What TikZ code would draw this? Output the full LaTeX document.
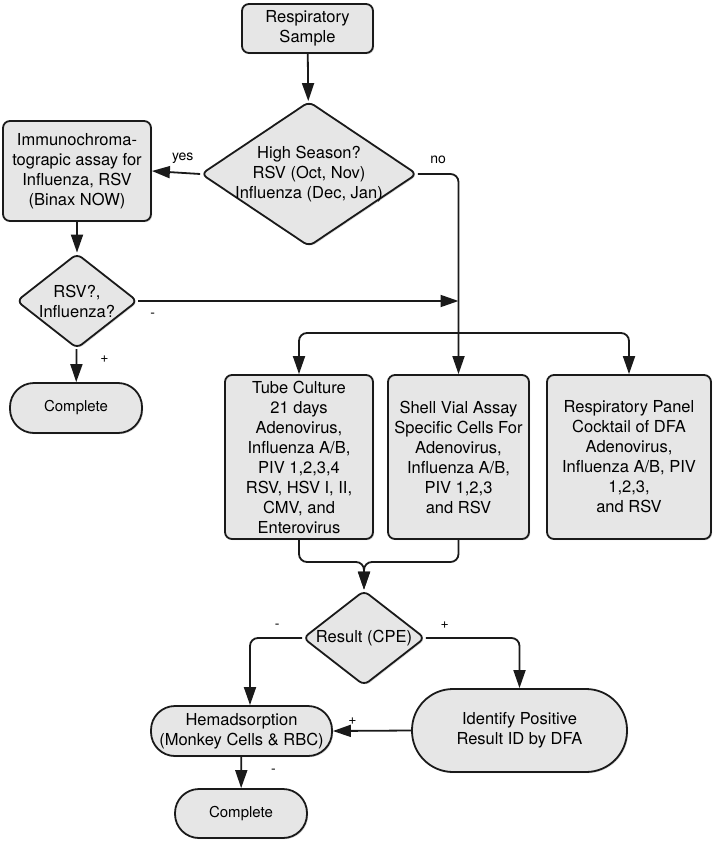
\documentclass[tikz,border=0pt]{standalone}
\usepackage{fontspec}
\setmainfont{TeX Gyre Heros}
\usetikzlibrary{shapes.geometric, arrows.meta, positioning, shadows}
\definecolor{boxfill}{HTML}{E6E6E6}
\definecolor{edgeline}{HTML}{1A1A1A}

\begin{document}
\begin{tikzpicture}[
    x=1pt, y=-1pt,
    every node/.style={font=\fontsize{16.5}{20}\selectfont},
    shade/.style={drop shadow={opacity=0.3, shadow xshift=1.2pt, shadow yshift=-1.2pt}},
    box/.style={rectangle, draw=edgeline, fill=boxfill, line width=1.8pt,
                rounded corners=7pt, align=center, inner sep=2pt, shade},
    decision/.style={diamond, draw=edgeline, fill=boxfill, line width=1.8pt,
                rounded corners=6pt, inner sep=0pt, shade},
    terminal/.style={rectangle, draw=edgeline, fill=boxfill, line width=1.8pt,
                rounded corners=24pt, align=center, inner sep=2pt, shade},
    arrow/.style={-{Triangle[length=18pt, width=12pt]}, line width=1.8pt, draw=edgeline},
    tag/.style={font=\fontsize{14}{16}\selectfont, inner sep=1pt}
]
\useasboundingbox (0,0) rectangle (714,845);

% Screening
\node[box, minimum width=131, minimum height=49] (sample) at (307.5,28.5) {Respiratory\\Sample};
\node[decision, minimum width=216, minimum height=145] (season) at (309,174) {};
\node[align=center] at (season) {High Season?\\RSV (Oct, Nov)\\Influenza (Dec, Jan)};
\node[box, minimum width=148, minimum height=100] (immuno) at (77,171)
    {Immunochroma-\\tograpic assay for\\Influenza, RSV\\(Binax NOW)};
\node[decision, minimum width=121, minimum height=95] (rsvq) at (77,301) {};
\node[align=center] at (rsvq) {RSV?,\\Influenza?};
\node[terminal, minimum width=132, minimum height=50, font=\fontsize{15}{18}\selectfont] (done1) at (76,408) {Complete};

% Assays
\node[box, minimum width=148, minimum height=164] (tube) at (299,457)
    {Tube Culture\\21 days\\Adenovirus,\\Influenza A/B,\\PIV 1,2,3,4\\RSV, HSV I, II,\\CMV, and\\Enterovirus};
\node[box, minimum width=141, minimum height=164] (shell) at (458.5,457)
    {Shell Vial Assay\\Specific Cells For\\Adenovirus,\\Influenza A/B,\\PIV 1,2,3\\and RSV};
\node[box, minimum width=164, minimum height=164] (panel) at (629,457)
    {Respiratory Panel\\Cocktail of DFA\\Adenovirus,\\Influenza A/B, PIV\\1,2,3,\\and RSV};

% Results
\node[decision, minimum width=122, minimum height=95] (result) at (364,638) {};
\node at (result) {Result (CPE)};
\node[terminal, minimum width=181, minimum height=50] (hemad) at (241.5,731) {Hemadsorption\\(Monkey Cells \& RBC)};
\node[terminal, minimum width=215, minimum height=83, rounded corners=41pt] (identify) at (519.5,730.5)
    {Identify Positive\\Result ID by DFA};
\node[terminal, minimum width=132, minimum height=49, font=\fontsize{15}{18}\selectfont] (done2) at (241,813.5) {Complete};

\coordinate (split) at (458.5,333);
\coordinate (join) at (364,562);

% Arrows
\draw[arrow] (sample) -- (season);
\draw[arrow] (season.west) -- (immuno.east) node[tag, pos=0.36, above=7pt] {yes};
\draw[arrow, rounded corners=8pt] (season.east) -| (shell.north) node[tag, pos=0.25, above=8pt] {no};
\draw[arrow] (immuno) -- (rsvq);
\draw[arrow] (rsvq.east) -- (rsvq.east -| split) node[tag, pos=0.045, below=10pt] {-};
\draw[arrow] (rsvq) -- (done1) node[tag, pos=0.3, right=22pt] {+};
\draw[arrow, rounded corners=8pt] (split) -| (tube.north);
\draw[arrow, rounded corners=8pt] (split) -| (panel.north);
\draw[arrow, rounded corners=8pt] (tube.south) |- (join) -- (result.north);
\draw[arrow, rounded corners=8pt] (shell.south) |- (join) -- (result.north);
\draw[arrow, rounded corners=8pt] (result.west) -| ([xshift=8.5pt]hemad.north) node[tag, pos=0.24, above=8pt] {-};
\draw[arrow, rounded corners=8pt] (result.east) -| (identify.north) node[tag, pos=0.1, above=8pt] {+};
\draw[arrow] (identify.west) -- (hemad.east) node[tag, pos=0.75, above=4pt] {+};
\draw[arrow] (hemad) -- (done2) node[tag, pos=0.45, right=28pt] {-};

\end{tikzpicture}
\end{document}
